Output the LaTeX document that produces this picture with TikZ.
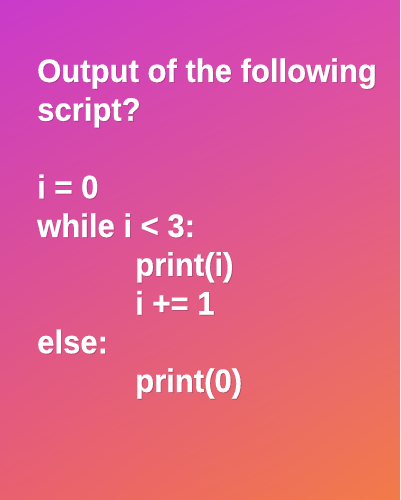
\documentclass[tikz,border=0pt]{standalone}
\usepackage{fontspec}
\usetikzlibrary{shadings}
\setmainfont{Liberation Sans}[FakeStretch=0.955, BoldFeatures={FakeBold=0.4}]
\definecolor{cTL}{HTML}{C93ACB}
\definecolor{cTR}{HTML}{DB4AB0}
\definecolor{cBL}{HTML}{E9606F}
\definecolor{cBR}{HTML}{F27B48}
\definecolor{shadowcol}{HTML}{6A2A50}
\tikzset{
  txt/.style={anchor=base west, inner sep=0pt, text=white, font=\fontsize{32.5}{38}\selectfont\bfseries},
  txtshadow/.style={txt, text=shadowcol, text opacity=0.35},
}
\newcommand{\codeline}[3]{%
  \node[txtshadow] (#1s) at ([xshift=0.8pt,yshift=-0.8pt]#2) {#3};
  \node[txt] (#1) at (#2) {#3};
}
\begin{document}
\begin{tikzpicture}[x=1pt,y=-1pt]
\useasboundingbox (0,0) rectangle (400,500);
\shade[upper left=cTL, upper right=cTR, lower left=cBL, lower right=cBR] (0,0) rectangle (400,500);
\coordinate (p1) at (37,82);
\coordinate (p2) at (37,120.75);
\coordinate (p3) at (37,198.25);
\coordinate (p4) at (37,237);
\coordinate (p5) at (135,275.75);
\coordinate (p6) at (135,314.5);
\coordinate (p7) at (37,353.25);
\coordinate (p8) at (135,392);
\codeline{l1}{p1}{Output of the following}
\codeline{l2}{p2}{script?}
\codeline{l3}{p3}{i = 0}
\codeline{l4}{p4}{while i < 3:}
\codeline{l5}{p5}{print(i)}
\codeline{l6}{p6}{i += 1}
\codeline{l7}{p7}{else:}
\codeline{l8}{p8}{print(0)}
\end{tikzpicture}
\end{document}
